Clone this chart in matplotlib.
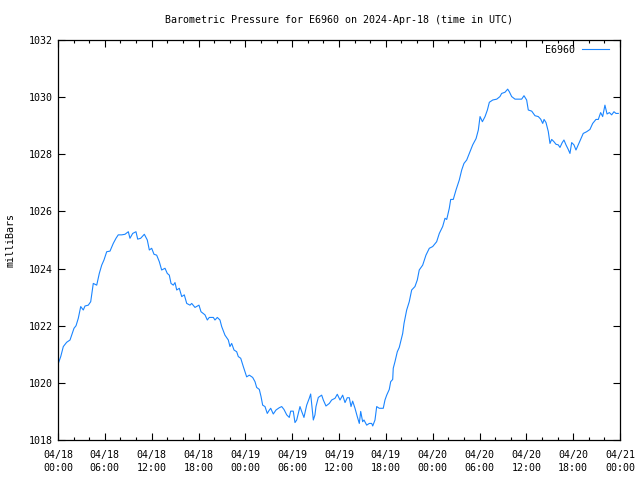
import numpy as np
import pandas as pd
import matplotlib
matplotlib.use("Agg")
import matplotlib.pyplot as plt
import matplotlib.dates as mdates

# hours since 2024-04-18 00:00 UTC
hours = [
    0.04, 0.35, 0.68, 1.11, 1.54, 1.76, 2.05, 2.31, 2.60, 2.91, 3.24, 3.46, 3.88, 4.19,
    4.52, 4.96, 5.29, 5.60, 5.89, 6.24, 6.66, 7.08, 7.43, 7.72, 8.16, 8.58, 9.01, 9.22,
    9.57, 9.99, 10.21, 10.59, 11.06, 11.44, 11.70, 12.00, 12.30, 12.64, 12.98, 13.28,
    13.71, 14.00, 14.26, 14.48, 14.77, 14.99, 15.21, 15.54, 15.85, 16.18, 16.49, 16.91,
    17.13, 17.55, 18.06, 18.32, 18.83, 19.13, 19.38, 19.90, 20.11, 20.41, 20.75, 20.97,
    21.39, 21.82, 22.03, 22.25, 22.55, 22.89, 23.10, 23.41, 23.74, 24.17, 24.51, 24.94,
    25.24, 25.45, 25.79, 26.01, 26.22, 26.52, 26.81, 27.03, 27.25, 27.58, 27.93, 28.35,
    28.66, 28.95, 29.30, 29.63, 29.81, 30.14, 30.36, 30.58, 31.00, 31.22, 31.51, 31.86,
    32.19, 32.37, 32.54, 32.71, 32.92, 33.05, 33.35, 33.78, 33.99, 34.33, 34.76, 35.06,
    35.49, 35.78, 36.13, 36.47, 36.77, 37.06, 37.32, 37.54, 37.75, 38.05, 38.34, 38.60,
    38.78, 39.03, 39.20, 39.55, 39.88, 40.19, 40.32, 40.61, 40.83, 41.16, 41.67, 41.89,
    42.11, 42.44, 42.62, 42.88, 42.95, 43.17, 43.47, 43.72, 44.16, 44.33, 44.67, 45.00,
    45.31, 45.73, 46.03, 46.28, 46.72, 47.14, 47.57, 48.00, 48.51, 48.85, 49.28, 49.58,
    49.80, 50.13, 50.31, 50.64, 50.99, 51.41, 51.72, 52.01, 52.36, 52.79, 53.13, 53.56,
    53.85, 54.07, 54.37, 54.71, 55.01, 55.26, 55.70, 56.21, 56.62, 56.84, 57.26, 57.61,
    57.82, 58.12, 58.55, 59.40, 59.70, 60.04, 60.25, 60.69, 61.11, 61.53, 61.84, 62.10,
    62.27, 62.52, 62.81, 63.03, 63.25, 63.54, 63.80, 64.09, 64.31, 64.60, 64.82, 65.08,
    65.37, 65.59, 65.81, 66.10, 66.36, 66.65, 66.96, 67.29, 67.73, 68.15, 68.50, 68.92,
    69.22, 69.52, 69.78, 70.07, 70.34, 70.64, 70.93, 71.23, 71.48, 71.78,
]
pressure = [
    1020.68, 1020.92, 1021.27, 1021.42, 1021.50, 1021.68, 1021.91, 1022.00, 1022.26, 1022.67,
    1022.55, 1022.69, 1022.72, 1022.84, 1023.48, 1023.42, 1023.83, 1024.12, 1024.30, 1024.59,
    1024.61, 1024.88, 1025.06, 1025.18, 1025.18, 1025.20, 1025.29, 1025.06, 1025.23, 1025.29,
    1025.03, 1025.06, 1025.20, 1025.00, 1024.65, 1024.71, 1024.50, 1024.47, 1024.24, 1023.95,
    1024.01, 1023.83, 1023.77, 1023.48, 1023.42, 1023.51, 1023.25, 1023.31, 1023.02, 1023.08,
    1022.78, 1022.72, 1022.78, 1022.64, 1022.72, 1022.49, 1022.38, 1022.20, 1022.29, 1022.29,
    1022.20, 1022.29, 1022.20, 1021.97, 1021.67, 1021.50, 1021.27, 1021.38, 1021.15, 1021.09,
    1020.92, 1020.86, 1020.57, 1020.21, 1020.27, 1020.19, 1020.04, 1019.84, 1019.77, 1019.52,
    1019.22, 1019.17, 1018.93, 1019.03, 1019.11, 1018.91, 1019.05, 1019.13, 1019.17, 1019.07,
    1018.88, 1018.79, 1019.01, 1019.01, 1018.61, 1018.70, 1019.17, 1019.00, 1018.79, 1019.22,
    1019.46, 1019.61, 1019.17, 1018.70, 1018.88, 1019.17, 1019.49, 1019.57, 1019.40, 1019.19,
    1019.28, 1019.40, 1019.46, 1019.60, 1019.40, 1019.57, 1019.31, 1019.48, 1019.48, 1019.17,
    1019.36, 1019.11, 1018.82, 1018.58, 1019.00, 1018.64, 1018.70, 1018.52, 1018.58, 1018.58,
    1018.49, 1018.70, 1019.17, 1019.11, 1019.11, 1019.40, 1019.57, 1019.77, 1020.04, 1020.12,
    1020.51, 1020.74, 1021.09, 1021.24, 1021.73, 1022.08, 1022.55, 1022.84, 1023.25, 1023.37,
    1023.60, 1023.95, 1024.12, 1024.47, 1024.71, 1024.77, 1024.94, 1025.23, 1025.47, 1025.76,
    1025.72, 1026.11, 1026.42, 1026.42, 1026.75, 1027.10, 1027.45, 1027.68, 1027.80, 1028.10,
    1028.33, 1028.55, 1028.85, 1029.32, 1029.14, 1029.32, 1029.55, 1029.82, 1029.90, 1029.93,
    1030.02, 1030.13, 1030.17, 1030.28, 1030.19, 1030.02, 1029.93, 1029.93, 1030.05, 1029.90,
    1029.55, 1029.51, 1029.35, 1029.32, 1029.23, 1029.08, 1029.22, 1029.11, 1028.80, 1028.38,
    1028.52, 1028.44, 1028.35, 1028.33, 1028.24, 1028.41, 1028.50, 1028.33, 1028.17, 1028.03,
    1028.41, 1028.33, 1028.15, 1028.33, 1028.52, 1028.73, 1028.79, 1028.87, 1029.08, 1029.22,
    1029.22, 1029.46, 1029.32, 1029.72, 1029.41, 1029.46, 1029.38, 1029.49, 1029.43, 1029.43,
]

start = pd.Timestamp("2024-04-18 00:00")
end = pd.Timestamp("2024-04-21 00:00")
times = start + pd.to_timedelta(hours, unit="h")

plt.rcParams["font.family"] = "DejaVu Sans Mono"
plt.rcParams["font.size"] = 7.2

fig = plt.figure(figsize=(6.4, 4.8), dpi=100)
ax = fig.add_axes([58 / 640, 40 / 480, 562 / 640, 400 / 480])

ax.plot(times, pressure, color="#1a85ff", linewidth=0.8, label="E6960")

ax.set_xlim(start, end)
ax.set_ylim(1018, 1032)
ax.set_yticks(np.arange(1018, 1033, 2))
ax.xaxis.set_major_locator(mdates.HourLocator(byhour=[0, 6, 12, 18]))
ax.xaxis.set_minor_locator(mdates.HourLocator(interval=2))
ax.xaxis.set_major_formatter(mdates.DateFormatter("%m/%d\n%H:%M"))
for lbl in ax.get_xticklabels():
    lbl.set_linespacing(1.35)

ax.tick_params(which="both", direction="in", top=True, right=True, width=0.8, colors="black")
ax.tick_params(which="major", length=5)
ax.tick_params(which="minor", length=2.5)
ax.tick_params(axis="x", pad=7.5)
ax.tick_params(axis="y", pad=4)
for s in ax.spines.values():
    s.set_linewidth(0.9)

ax.set_ylabel("milliBars", labelpad=9)
fig.suptitle("Barometric Pressure for E6960 on 2024-Apr-18 (time in UTC)",
             x=339 / 640, y=1 - 20 / 480, va="center", fontsize=7.2)

leg = ax.legend(loc="upper right", bbox_to_anchor=(1 - 6 / 562, 1), frameon=False,
                handlelength=2.7, handletextpad=0.7, markerfirst=False,
                borderaxespad=0.1, borderpad=0.4)

fig.savefig("out.png", dpi=100)
